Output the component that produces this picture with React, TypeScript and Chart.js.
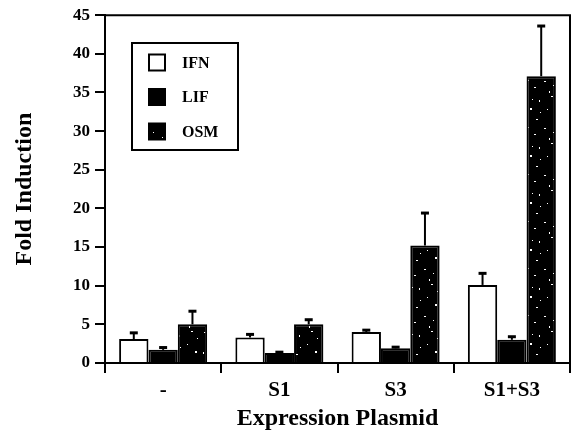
import React, { useEffect, useRef } from "react";
import { Chart, registerables } from "chart.js";

Chart.register(...registerables);

const categories = ["-", "S1", "S3", "S1+S3"];
const seriesNames = ["IFN", "LIF", "OSM"];
const ifnValues = [3.1, 3.3, 4.0, 10.1];
const lifValues = [1.7, 1.3, 1.9, 3.0];
const osmValues = [5.0, 5.0, 15.2, 37.1];
const ifnErrors = [0.8, 0.4, 0.25, 1.5];
const lifErrors = [0.3, 0.1, 0.15, 0.4];
const osmErrors = [1.7, 0.6, 4.2, 6.5];
const yMin = 0;
const yMax = 45;
const yStep = 5;
const xTitle = "Expression Plasmid";
const yTitle = "Fold Induction";

const FONT = "'Liberation Serif', 'Times New Roman', serif";

// fixed speckle texture positions for the OSM fill: [x, y, w, h]
const speckles: [number, number, number, number][] = [
  [4, 3, 2, 1], [19, 6, 1, 2], [31, 2, 2, 1], [10, 14, 2, 2], [27, 15, 1, 1],
  [3, 23, 1, 2], [16, 25, 2, 1], [35, 22, 2, 2], [8, 33, 1, 1], [24, 34, 2, 1],
  [33, 38, 1, 1], [14, 40, 2, 1], [2, 43, 1, 1], [29, 44, 1, 2], [20, 18, 1, 1],
  [37, 9, 1, 1], [12, 5, 1, 1],
];

function makePattern(): CanvasPattern | string {
  const c = document.createElement("canvas");
  c.width = 40;
  c.height = 47;
  const g = c.getContext("2d");
  if (!g) return "#000";
  g.fillStyle = "#000";
  g.fillRect(0, 0, c.width, c.height);
  g.fillStyle = "#fff";
  for (const [x, y, w, h] of speckles) {
    g.fillRect(x, y, w, h);
  }
  const p = g.createPattern(c, "repeat");
  return p || "#000";
}

export default function App() {
  const ref = useRef<HTMLCanvasElement | null>(null);

  useEffect(() => {
    if (!ref.current) return;
    const pattern = makePattern();
    const fills: any[] = ["#ffffff", "#000000", pattern];
    const errorsList = [ifnErrors, lifErrors, osmErrors];

    const errorBars = {
      id: "errorBars",
      afterDatasetsDraw(chart: any) {
        const ctx = chart.ctx;
        const yScale = chart.scales.y;
        ctx.save();
        ctx.strokeStyle = "#000";
        chart.data.datasets.forEach((ds: any, di: number) => {
          const meta = chart.getDatasetMeta(di);
          const errs = errorsList[di];
          meta.data.forEach((bar: any, i: number) => {
            const v = ds.data[i];
            const top = yScale.getPixelForValue(v + errs[i]);
            const x = bar.x;
            ctx.lineWidth = 2;
            ctx.beginPath();
            ctx.moveTo(x, bar.y);
            ctx.lineTo(x, top);
            ctx.stroke();
            ctx.lineWidth = 3;
            ctx.beginPath();
            ctx.moveTo(x - 4, top);
            ctx.lineTo(x + 4, top);
            ctx.stroke();
          });
        });
        ctx.restore();
      },
    };

    const frameAndLegend = {
      id: "frameAndLegend",
      afterDraw(chart: any) {
        const ctx = chart.ctx;
        const a = chart.chartArea;
        ctx.save();
        ctx.strokeStyle = "#000";
        ctx.lineWidth = 2;
        ctx.beginPath();
        ctx.moveTo(a.left, a.top);
        ctx.lineTo(a.right, a.top);
        ctx.lineTo(a.right, a.bottom);
        ctx.stroke();

        // legend box
        const bx = 132, by = 43, bw = 106, bh = 107;
        ctx.fillStyle = "#fff";
        ctx.fillRect(bx, by, bw, bh);
        ctx.strokeRect(bx, by, bw, bh);
        const rows = [62.5, 97, 131.5];
        ctx.font = `bold 16px ${FONT}`;
        ctx.textBaseline = "middle";
        ctx.textAlign = "left";
        seriesNames.forEach((name, i) => {
          const cy = rows[i];
          ctx.fillStyle = fills[i];
          ctx.fillRect(149, cy - 8, 16, 16);
          ctx.lineWidth = 2;
          ctx.strokeRect(149, cy - 8, 16, 16);
          ctx.fillStyle = "#000";
          ctx.fillText(name, 182, cy + 1);
        });
        ctx.restore();
      },
    };

    const chart = new Chart(ref.current, {
      type: "bar",
      data: {
        labels: categories,
        datasets: [
          { label: seriesNames[0], data: ifnValues, backgroundColor: fills[0], borderColor: "#000", borderWidth: 2 },
          { label: seriesNames[1], data: lifValues, backgroundColor: fills[1], borderColor: "#000", borderWidth: 2 },
          { label: seriesNames[2], data: osmValues, backgroundColor: fills[2], borderColor: "#000", borderWidth: 2 },
        ],
      },
      options: {
        responsive: false,
        animation: false,
        events: [],
        layout: { padding: { left: 0, top: 14, right: 3, bottom: 0 } },
        datasets: { bar: { categoryPercentage: 0.757, barPercentage: 1.0 } },
        plugins: { legend: { display: false }, tooltip: { enabled: false } },
        scales: {
          x: {
            afterFit(scale: any) { scale.height = 72; },
            grid: { display: true, drawOnChartArea: false, drawTicks: true, tickLength: 10, color: "#000", lineWidth: 2, offset: true },
            border: { display: true, color: "#000", width: 2 },
            ticks: { color: "#000", padding: 5, font: { family: FONT, size: 21, weight: "bold" } },
            title: { display: true, text: xTitle, color: "#000", padding: { top: 0, bottom: 2 }, font: { family: FONT, size: 24, weight: "bold" } },
          },
          y: {
            min: yMin,
            max: yMax,
            afterFit(scale: any) { scale.width = 105; },
            grid: { display: true, drawOnChartArea: false, drawTicks: true, tickLength: 10, color: "#000", lineWidth: 2 },
            border: { display: true, color: "#000", width: 2 },
            ticks: { stepSize: yStep, color: "#000", padding: 5, font: { family: FONT, size: 17, weight: "bold" } },
            title: { display: true, text: yTitle, color: "#000", padding: { top: 10, bottom: 0 }, font: { family: FONT, size: 24, weight: "bold" } },
          },
        },
      },
      plugins: [errorBars, frameAndLegend],
    } as any);

    return () => chart.destroy();
  }, []);

  return (
    <div style={{ position: "absolute", left: 0, top: 0, width: 573, height: 435, background: "#fff" }}>
      <canvas ref={ref} width={573} height={435} />
    </div>
  );
}
